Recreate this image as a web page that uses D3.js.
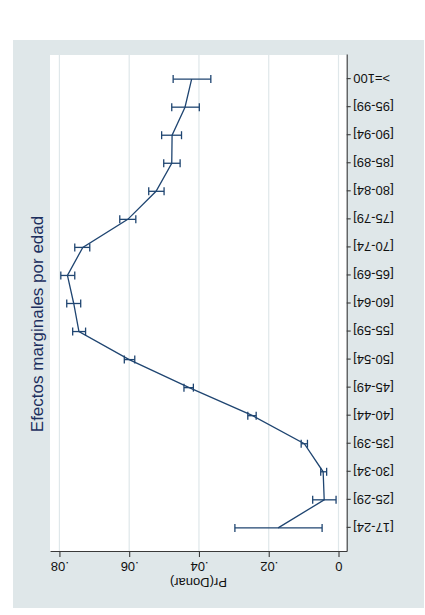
<!DOCTYPE html>
<html>
<head>
<meta charset="utf-8">
<script src="https://cdn.jsdelivr.net/npm/d3@7"></script>
<style>
	body { margin: 0; background: #fff; }
	text { font-family: Arial, 'Liberation Sans', sans-serif; }
</style>
</head>
<body>
<script>
// age groups, bottom to top on the page
const ages = ['[17-24]', '[25-29]', '[30-34]', '[35-39]', '[40-44]', '[45-49]', '[50-54]', '[55-59]',
	'[60-64]', '[65-69]', '[70-74]', '[75-79]', '[80-84]', '[85-89]', '[90-94]', '[95-99]', '>=100'];

const prob = [0.0173, 0.0041, 0.0044, 0.0098, 0.0246, 0.0428, 0.0600, 0.0744,
	0.0759, 0.0777, 0.0733, 0.0604, 0.0523, 0.0478, 0.0477, 0.0440, 0.0421];
const ciLow = [0.0047, 0.0007, 0.0034, 0.0089, 0.0236, 0.0416, 0.0584, 0.0725,
	0.0739, 0.0756, 0.0713, 0.0581, 0.0500, 0.0454, 0.0450, 0.0399, 0.0366];
const ciHigh = [0.0297, 0.0074, 0.0051, 0.0107, 0.0260, 0.0443, 0.0614, 0.0762,
	0.0779, 0.0796, 0.0756, 0.0627, 0.0544, 0.0501, 0.0507, 0.0478, 0.0474];

const yTicks = [0, 0.02, 0.04, 0.06, 0.08];

const w = 425;
const h = 615;
const navy = '#1f4571';

const svg = d3
	.select('body')
	.append('svg')
	.attr('width', w)
	.attr('height', h);

// the chart is drawn the stata way (615 wide, 425 high) and turned a quarter left
const g = svg.append('g').attr('transform', `translate(0,${h}) rotate(-90)`);

// graph region
g.append('rect')
	.attr('x', 7)
	.attr('y', 13)
	.attr('width', 568)
	.attr('height', 411)
	.attr('fill', '#dfe7e9');

const plot = { left: 63, right: 560, top: 50, bottom: 346.7 };

g.append('rect')
	.attr('x', plot.left)
	.attr('y', plot.top)
	.attr('width', plot.right - plot.left)
	.attr('height', plot.bottom - plot.top)
	.attr('fill', '#fff');

const xScale = d3
	.scaleLinear()
	.domain([-0.86, ages.length - 1 + 0.86])
	.range([plot.left, plot.right]);

const yScale = d3
	.scaleLinear()
	.domain([-0.00235, 0.0827])
	.range([plot.bottom, plot.top]);

// grid
g.selectAll('line.grid')
	.data(yTicks)
	.enter()
	.append('line')
	.attr('class', 'grid')
	.attr('x1', plot.left)
	.attr('x2', plot.right)
	.attr('y1', d => yScale(d))
	.attr('y2', d => yScale(d))
	.attr('stroke', '#dfe7ea')
	.attr('stroke-width', 1.2);

// value axis
const yAxis = g
	.append('g')
	.attr('transform', `translate(${plot.left},0)`)
	.call(
		d3.axisLeft(yScale)
			.tickValues(yTicks)
			.tickSize(5)
			.tickSizeOuter(0)
			.tickFormat(d => (d === 0 ? '0' : d3.format('.2f')(d).replace('0.', '.')))
	);

yAxis.selectAll('text')
	.attr('x', 0)
	.attr('y', 0)
	.attr('dy', '0.35em')
	.attr('transform', 'translate(-15,0) rotate(-90)')
	.attr('text-anchor', 'middle')
	.attr('font-size', 13)
	.attr('fill', '#111');

// category axis
const xAxis = g
	.append('g')
	.attr('transform', `translate(0,${plot.bottom})`)
	.call(
		d3.axisBottom(xScale)
			.tickValues(d3.range(ages.length))
			.tickSize(4)
			.tickSizeOuter(0)
			.tickFormat(i => ages[i])
	);

xAxis.selectAll('text')
	.attr('x', 0)
	.attr('y', 0)
	.attr('dy', '0.35em')
	.attr('transform', 'translate(0,6.5) rotate(-90)')
	.attr('text-anchor', 'end')
	.attr('font-size', 13)
	.attr('fill', '#111');

g.selectAll('.domain, .tick line').attr('stroke', '#3a3a3a').attr('stroke-width', 1.1);
g.selectAll('.tick').attr('font-family', null);

// axis title
g.append('text')
	.attr('transform', `translate(32,${(plot.top + plot.bottom) / 2}) rotate(-90)`)
	.attr('dy', '0.35em')
	.attr('text-anchor', 'middle')
	.attr('font-size', 13)
	.attr('fill', '#111')
	.text('Pr(Donar)');

// title
g.append('text')
	.attr('x', 291)
	.attr('y', 37)
	.attr('dy', '0.35em')
	.attr('text-anchor', 'middle')
	.attr('font-size', 17)
	.attr('fill', '#1c2f5e')
	.text('Efectos marginales por edad');

// confidence intervals with caps
const idx = d3.range(ages.length);
const capW = 4;

g.selectAll('line.ci')
	.data(idx)
	.enter()
	.append('line')
	.attr('class', 'ci')
	.attr('x1', i => xScale(i))
	.attr('x2', i => xScale(i))
	.attr('y1', i => yScale(ciLow[i]))
	.attr('y2', i => yScale(ciHigh[i]))
	.attr('stroke', navy)
	.attr('stroke-width', 1.3);

[ciLow, ciHigh].forEach(arr => {
	g.selectAll(null)
		.data(idx)
		.enter()
		.append('line')
		.attr('x1', i => xScale(i) - capW)
		.attr('x2', i => xScale(i) + capW)
		.attr('y1', i => yScale(arr[i]))
		.attr('y2', i => yScale(arr[i]))
		.attr('stroke', navy)
		.attr('stroke-width', 1.3);
});

// estimate line
const line = d3
	.line()
	.x(i => xScale(i))
	.y(i => yScale(prob[i]));

g.append('path')
	.datum(idx)
	.attr('d', line)
	.attr('fill', 'none')
	.attr('stroke', navy)
	.attr('stroke-width', 1.3);
</script>
</body>
</html>
